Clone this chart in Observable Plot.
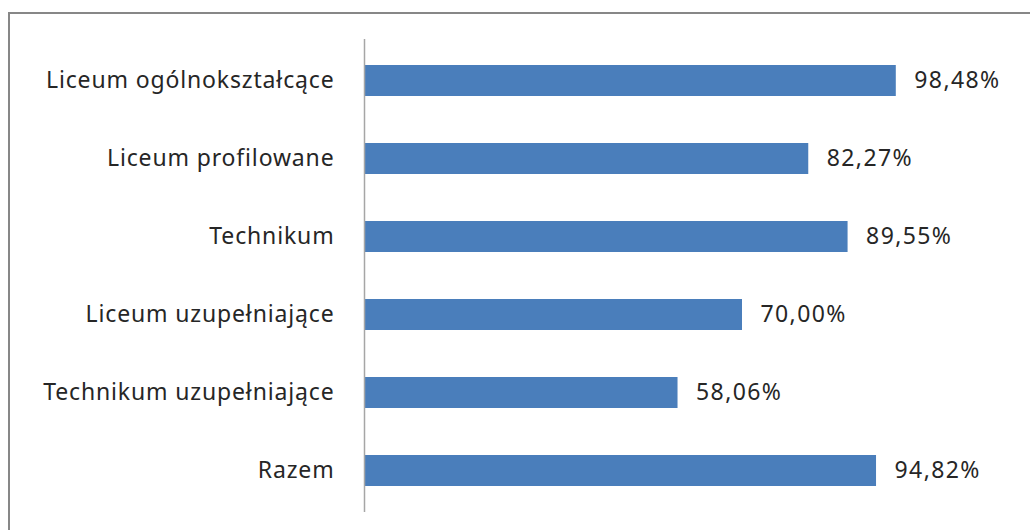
<!DOCTYPE html>
<html>
<head>
<meta charset="utf-8">
<script src="https://cdn.jsdelivr.net/npm/d3@7"></script>
<script src="https://cdn.jsdelivr.net/npm/@observablehq/plot@0.6"></script>
<style>
  html, body { margin: 0; padding: 0; background: #fff; overflow: hidden; }
  #wrap { position: relative; width: 1030px; height: 530px; overflow: hidden; }
  #frame { position: absolute; left: 8px; top: 12px; width: 1100px; height: 600px; border: 2px solid #878787; box-sizing: border-box; }
  #chart { position: absolute; left: 0; top: 0; }
  #chart svg g[aria-label="y-axis tick label"] text { letter-spacing: 0.85px; }
  #chart svg g[aria-label="text"] text { letter-spacing: 1.4px; }
</style>
</head>
<body>
<div id="wrap"><div id="frame"></div><div id="chart"></div></div>
<script>
const categories = ["Liceum ogólnokształcące", "Liceum profilowane", "Technikum", "Liceum uzupełniające", "Technikum uzupełniające", "Razem"];
const values = [98.48, 82.27, 89.55, 70.00, 58.06, 94.82];
const data = categories.map((c, i) => ({category: c, value: values[i]}));
const fmt = v => v.toFixed(2).replace(".", ",") + "%";

const chart = Plot.plot({
  width: 1030,
  height: 530,
  marginLeft: 364,
  marginRight: 126,
  marginTop: 39,
  marginBottom: 18,
  style: {fontFamily: "'Noto Sans', sans-serif", fontSize: "23px", color: "#262626", background: "transparent"},
  x: {domain: [0, 100], axis: null},
  y: {domain: categories, paddingInner: 0.607, paddingOuter: 0.3035, label: null, tickSize: 0, tickPadding: 30},
  marks: [
    Plot.barX(data, {y: "category", x: "value", fill: "#4a7ebb"}),
    Plot.ruleX([0], {stroke: "#a6a6a6", strokeWidth: 1.5}),
    Plot.text(data, {y: "category", x: "value", text: d => fmt(d.value), textAnchor: "start", dx: 18, fill: "#262626", fontSize: 23})
  ]
});
document.getElementById("chart").appendChild(chart);
</script>
</body>
</html>
